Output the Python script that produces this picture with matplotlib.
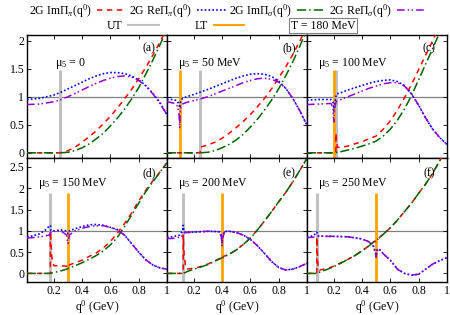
import matplotlib
matplotlib.use('Agg')
import matplotlib.pyplot as plt
from matplotlib.lines import Line2D
from matplotlib.ticker import FormatStrFormatter

plt.rcParams['font.family'] = ['Liberation Serif', 'DejaVu Serif']
plt.rcParams['mathtext.fontset'] = 'custom'
plt.rcParams['mathtext.rm'] = 'Liberation Serif'
plt.rcParams['mathtext.it'] = 'Liberation Serif:italic'
plt.rcParams['font.size'] = 8.5

# ---- data ----
mu5_labels = ['0', '50 MeV', '100 MeV', '150 MeV', '200 MeV', '250 MeV']
panel_tags = ['(a)', '(b)', '(c)', '(d)', '(e)', '(f)']
ut_pos = [0.245, 0.245, 0.215, 0.175, 0.125, 0.08]
lt_pos = [None, 0.1, 0.2, 0.3, 0.4, 0.5]

# (a) mu5 = 0
im_x_a = [0.01, 0.245, 0.3, 0.35, 0.4, 0.45, 0.5, 0.55, 0.6, 0.65, 0.7, 0.75, 0.8, 0.85, 0.9, 0.95, 1.0]
im_pi_a = [0, 0, 0.04, 0.1, 0.19, 0.29, 0.39, 0.52, 0.65, 0.8, 0.96, 1.13, 1.32, 1.52, 1.74, 1.97, 2.22]
im_sig_a = [0, 0, 0.01, 0.04, 0.09, 0.16, 0.25, 0.35, 0.48, 0.62, 0.78, 0.96, 1.16, 1.4, 1.65, 1.92, 2.2]
re_x_a = [0.01, 0.1, 0.2, 0.25, 0.3, 0.35, 0.4, 0.45, 0.5, 0.55, 0.6, 0.65, 0.7, 0.75, 0.8, 0.85, 0.9, 0.95, 1.0]
re_pi_a = [0.95, 0.97, 1.03, 1.08, 1.14, 1.2, 1.26, 1.32, 1.37, 1.41, 1.43, 1.43, 1.41, 1.37, 1.3, 1.2, 1.06, 0.9, 0.68]
re_sig_a = [0.86, 0.87, 0.91, 0.95, 1.0, 1.06, 1.12, 1.18, 1.24, 1.29, 1.33, 1.36, 1.37, 1.35, 1.29, 1.19, 1.05, 0.88, 0.68]

# (b) mu5 = 50 MeV
im_x_b = [0.01, 0.245, 0.245, 0.3, 0.35, 0.4, 0.45, 0.5, 0.55, 0.6, 0.65, 0.7, 0.75, 0.8, 0.85, 0.9, 0.95, 1.0]
im_pi_b = [0, 0, 0.1, 0.14, 0.19, 0.26, 0.35, 0.45, 0.56, 0.68, 0.82, 0.97, 1.14, 1.33, 1.53, 1.75, 1.99, 2.25]
im_sig_b = [0, 0, 0, 0.01, 0.04, 0.09, 0.15, 0.23, 0.33, 0.46, 0.6, 0.76, 0.94, 1.14, 1.37, 1.62, 1.9, 2.2]
re_x_b = [0.01, 0.05, 0.08, 0.095, 0.1, 0.105, 0.12, 0.15, 0.2, 0.245, 0.3, 0.35, 0.4, 0.45, 0.5,
          0.55, 0.6, 0.65, 0.7, 0.75, 0.8, 0.85, 0.9, 0.95, 1.0]
re_pi_b = [0.95, 0.95, 0.93, 0.87, 0.8, 0.9, 0.97, 1.0, 1.04, 1.08, 1.13, 1.18, 1.23, 1.28, 1.33,
           1.37, 1.4, 1.41, 1.4, 1.36, 1.28, 1.15, 0.97, 0.75, 0.49]
re_sig_b = [0.91, 0.89, 0.86, 0.72, 0.45, 0.78, 0.87, 0.9, 0.93, 0.96, 1.0, 1.05, 1.1, 1.15, 1.2,
            1.25, 1.29, 1.32, 1.33, 1.31, 1.26, 1.15, 0.97, 0.75, 0.49]

# (c) mu5 = 100 MeV
im_x_c = [0.01, 0.215, 0.215, 0.225, 0.25, 0.3, 0.35, 0.4, 0.45, 0.5, 0.55, 0.6, 0.65, 0.7, 0.75,
          0.8, 0.85, 0.9, 0.95, 1.0]
im_pi_c = [0, 0, 0.35, 0.1, 0.1, 0.12, 0.16, 0.2, 0.25, 0.3, 0.42, 0.57, 0.76, 0.98, 1.22,
           1.48, 1.74, 2.0, 2.28, 2.55]
im_sig_c = [0, 0, 0, 0.01, 0.02, 0.05, 0.08, 0.12, 0.16, 0.21, 0.3, 0.42, 0.58, 0.78, 1.02,
            1.3, 1.58, 1.86, 2.15, 2.45]
re_x_c = [0.01, 0.1, 0.18, 0.195, 0.2, 0.205, 0.215, 0.22, 0.25, 0.3, 0.35, 0.4, 0.45, 0.5, 0.55,
          0.6, 0.65, 0.7, 0.75, 0.8, 0.85, 0.9, 0.95, 1.0]
re_pi_c = [0.94, 0.95, 0.95, 0.9, 0.75, 0.85, 1.0, 1.05, 1.07, 1.12, 1.16, 1.2, 1.24, 1.27, 1.29,
           1.3, 1.27, 1.2, 1.05, 0.85, 0.62, 0.42, 0.27, 0.15]
re_sig_c = [0.86, 0.87, 0.88, 0.8, 0.55, 0.75, 0.9, 0.92, 0.95, 1.0, 1.05, 1.1, 1.15, 1.19, 1.23,
            1.25, 1.25, 1.19, 1.05, 0.85, 0.62, 0.42, 0.27, 0.15]

# (d) mu5 = 150 MeV
im_x_d = [0.01, 0.175, 0.175, 0.185, 0.2, 0.25, 0.29, 0.3, 0.31, 0.35, 0.4, 0.45, 0.5, 0.55, 0.6,
          0.65, 0.7, 0.75, 0.8, 0.85, 0.9, 0.95, 1.0]
im_pi_d = [0, 0, 1.0, 0.4, 0.18, 0.18, 0.17, 0.12, 0.2, 0.25, 0.31, 0.4, 0.48, 0.6, 0.75,
           0.95, 1.17, 1.42, 1.7, 1.95, 2.17, 2.38, 2.6]
im_sig_d = [0, 0, 0, 0.01, 0.02, 0.06, 0.1, 0.12, 0.13, 0.18, 0.25, 0.33, 0.42, 0.53, 0.67,
            0.85, 1.1, 1.37, 1.65, 1.92, 2.15, 2.37, 2.6]
re_x_d = [0.01, 0.05, 0.1, 0.14, 0.165, 0.175, 0.18, 0.2, 0.25, 0.29, 0.3, 0.31, 0.35, 0.4, 0.45,
          0.5, 0.55, 0.6, 0.65, 0.7, 0.75, 0.8, 0.85, 0.9, 0.95, 1.0]
re_pi_d = [0.86, 0.88, 0.93, 1.02, 1.1, 1.13, 1.0, 1.0, 1.02, 1.0, 0.93, 1.0, 1.05, 1.1, 1.14,
           1.15, 1.13, 1.08, 1.03, 0.9, 0.7, 0.5, 0.32, 0.2, 0.13, 0.1]
re_sig_d = [0.83, 0.84, 0.86, 0.88, 0.9, 0.92, 1.0, 1.0, 1.0, 0.9, 0.7, 0.9, 1.0, 1.06, 1.1,
            1.12, 1.12, 1.08, 1.02, 0.9, 0.7, 0.5, 0.32, 0.2, 0.13, 0.1]

# (e) mu5 = 200 MeV
im_x_e = [0.01, 0.125, 0.125, 0.13, 0.14, 0.15, 0.2, 0.25, 0.3, 0.35, 0.39, 0.4, 0.41, 0.45, 0.5,
          0.55, 0.6, 0.65, 0.7, 0.75, 0.8, 0.85, 0.9, 0.95, 1.0]
im_pi_e = [0, 0, 0.9, 0.5, 0.2, 0.1, 0.12, 0.16, 0.22, 0.3, 0.36, 0.32, 0.4, 0.45, 0.55,
           0.68, 0.83, 1.02, 1.23, 1.45, 1.68, 1.9, 2.15, 2.42, 2.7]
im_sig_e = [0, 0, 0, 0.01, 0.02, 0.04, 0.1, 0.15, 0.21, 0.29, 0.35, 0.37, 0.38, 0.45, 0.55,
            0.68, 0.83, 1.02, 1.23, 1.45, 1.68, 1.9, 2.15, 2.42, 2.7]
re_x_e = [0.01, 0.05, 0.1, 0.12, 0.125, 0.13, 0.15, 0.2, 0.3, 0.38, 0.395, 0.4, 0.405, 0.42, 0.45,
          0.5, 0.55, 0.6, 0.65, 0.7, 0.75, 0.8, 0.85, 0.9, 0.95, 1.0]
re_pi_e = [0.85, 0.86, 0.9, 1.0, 1.13, 0.97, 0.96, 0.97, 0.99, 0.98, 0.9, 0.7, 0.9, 0.99, 0.99,
           0.96, 0.9, 0.8, 0.65, 0.47, 0.28, 0.14, 0.08, 0.1, 0.16, 0.24]
re_sig_e = [0.82, 0.82, 0.85, 0.88, 0.9, 0.95, 0.96, 0.97, 0.99, 0.98, 0.85, 0.65, 0.85, 0.99, 0.99,
            0.96, 0.9, 0.8, 0.65, 0.47, 0.28, 0.14, 0.08, 0.1, 0.16, 0.24]

# (f) mu5 = 250 MeV
im_x_f = [0.01, 0.08, 0.08, 0.085, 0.09, 0.1, 0.15, 0.2, 0.25, 0.3, 0.35, 0.4, 0.45, 0.49, 0.5,
          0.51, 0.55, 0.6, 0.65, 0.7, 0.75, 0.8, 0.85, 0.9, 0.95, 1.0]
im_pi_f = [0, 0, 0.85, 0.4, 0.1, 0.08, 0.11, 0.17, 0.25, 0.33, 0.42, 0.53, 0.65, 0.76, 0.74,
           0.8, 0.92, 1.07, 1.25, 1.45, 1.65, 1.88, 2.1, 2.35, 2.65, 2.9]
im_sig_f = [0, 0, 0, 0.01, 0.02, 0.03, 0.09, 0.16, 0.24, 0.33, 0.42, 0.53, 0.65, 0.76, 0.78,
            0.8, 0.92, 1.07, 1.25, 1.45, 1.65, 1.88, 2.1, 2.35, 2.65, 2.9]
re_x_f = [0.01, 0.05, 0.075, 0.08, 0.09, 0.15, 0.2, 0.3, 0.4, 0.45, 0.48, 0.495, 0.5, 0.505, 0.52,
          0.55, 0.6, 0.65, 0.7, 0.75, 0.8, 0.85, 0.9, 0.95, 1.0]
re_pi_f = [0.84, 0.88, 0.94, 0.97, 0.88, 0.87, 0.87, 0.86, 0.81, 0.74, 0.64, 0.5, 0.42, 0.55, 0.58,
           0.46, 0.31, 0.1, 0.0, -0.04, -0.02, 0.1, 0.22, 0.3, 0.37]
re_sig_f = [0.84, 0.85, 0.86, 0.87, 0.88, 0.87, 0.87, 0.86, 0.81, 0.74, 0.64, 0.48, 0.38, 0.52, 0.58,
            0.46, 0.31, 0.1, 0.0, -0.04, -0.02, 0.1, 0.22, 0.3, 0.37]

panels = [
    (im_x_a, im_pi_a, im_sig_a, re_x_a, re_pi_a, re_sig_a),
    (im_x_b, im_pi_b, im_sig_b, re_x_b, re_pi_b, re_sig_b),
    (im_x_c, im_pi_c, im_sig_c, re_x_c, re_pi_c, re_sig_c),
    (im_x_d, im_pi_d, im_sig_d, re_x_d, re_pi_d, re_sig_d),
    (im_x_e, im_pi_e, im_sig_e, re_x_e, re_pi_e, re_sig_e),
    (im_x_f, im_pi_f, im_sig_f, re_x_f, re_pi_f, re_sig_f),
]

# ---- styles ----
st_im_pi = dict(color='#ff0000', lw=1.1, dashes=(3.5, 3))
st_re_pi = dict(color='#0000ff', lw=1.2, dashes=(1, 1.3))
st_im_sig = dict(color='#006400', lw=1.1, dashes=(6, 2, 1, 2))
st_re_sig = dict(color='#9400d3', lw=1.1, dashes=(5, 2, 1, 1.5, 1, 2))
ut_color = '#c0c0c0'
lt_color = '#ffa500'

fig, axes = plt.subplots(2, 3, figsize=(4.5, 3.15), dpi=100)
fig.subplots_adjust(left=0.06, right=0.993, top=0.889, bottom=0.105, wspace=0, hspace=0)

for i, ax in enumerate(axes.flat):
    im_x, im_pi, im_sig, re_x, re_pi, re_sig = panels[i]
    top_row = i < 3
    ylo, yhi = (-0.1, 2.1) if top_row else (-0.2, 2.7)
    vtop = 1.47 if top_row else 1.9

    ax.axhline(1.0, color='#808080', lw=0.9, zorder=1)
    ax.vlines(ut_pos[i], ylo, vtop, color=ut_color, lw=2.2, zorder=2)
    if lt_pos[i] is not None:
        ax.vlines(lt_pos[i], ylo, vtop, color=lt_color, lw=2.0, zorder=2)

    ax.plot(im_x, im_pi, zorder=3, **st_im_pi)
    ax.plot(re_x, re_pi, zorder=3, **st_re_pi)
    ax.plot(im_x, im_sig, zorder=3, **st_im_sig)
    ax.plot(re_x, re_sig, zorder=3, **st_re_sig)

    ax.set_xlim(0.01, 1.0)
    ax.set_ylim(ylo, yhi)
    ax.set_xticks([0.2, 0.4, 0.6, 0.8, 1.0])
    ax.set_yticks([0, 0.5, 1, 1.5, 2] if top_row else [0, 0.5, 1, 1.5, 2, 2.5])
    ax.xaxis.set_major_formatter(FormatStrFormatter('%g'))
    ax.yaxis.set_major_formatter(FormatStrFormatter('%g'))
    ax.tick_params(direction='in', top=True, right=True, length=3, width=0.6, pad=2)
    if top_row:
        ax.tick_params(labelbottom=False)
    else:
        ax.set_xlabel('q$^0$ (GeV)', labelpad=1)
    if i % 3 != 0:
        ax.tick_params(labelleft=False)
    for sp in ax.spines.values():
        sp.set_linewidth(1.0)

    mu_x = 0.21 if i == 0 else 0.085
    mu_y = 1.6 if top_row else 2.1
    ax.text(mu_x, mu_y, r'μ$_5$ = ' + mu5_labels[i], ha='left', va='center')
    tag_y = 1.87 if top_row else 2.35
    ax.text(0.875, tag_y, panel_tags[i], ha='center', va='center')

# ---- legend ----
h1 = [Line2D([], [], **st_im_pi), Line2D([], [], **st_re_pi),
      Line2D([], [], **st_im_sig), Line2D([], [], **st_re_sig)]
l1 = [r'2G Im$\Pi_{π}$(q$^0$)', r'2G Re$\Pi_{π}$(q$^0$)',
      r'2G Im$\Pi_{σ}$(q$^0$)', r'2G Re$\Pi_{σ}$(q$^0$)']
fig.legend(h1, l1, loc='center', bbox_to_anchor=(0.505, 0.965), ncol=4, frameon=False,
           markerfirst=False, handlelength=2.4, handletextpad=0.45, columnspacing=0.3,
           borderpad=0, borderaxespad=0)
h2 = [Line2D([], [], color=ut_color, lw=1.5), Line2D([], [], color=lt_color, lw=1.5)]
fig.legend(h2, ['UT', 'LT'], loc='center', bbox_to_anchor=(0.39, 0.918), ncol=2, frameon=False,
           markerfirst=False, handlelength=2.6, handletextpad=0.5, columnspacing=3.0,
           borderpad=0, borderaxespad=0)
fig.text(0.718, 0.918, 'T = 180 MeV', ha='center', va='center',
         bbox=dict(boxstyle='square,pad=0.12', fc='white', ec='#808080', lw=0.8))

fig.savefig('out.png', dpi=100)
